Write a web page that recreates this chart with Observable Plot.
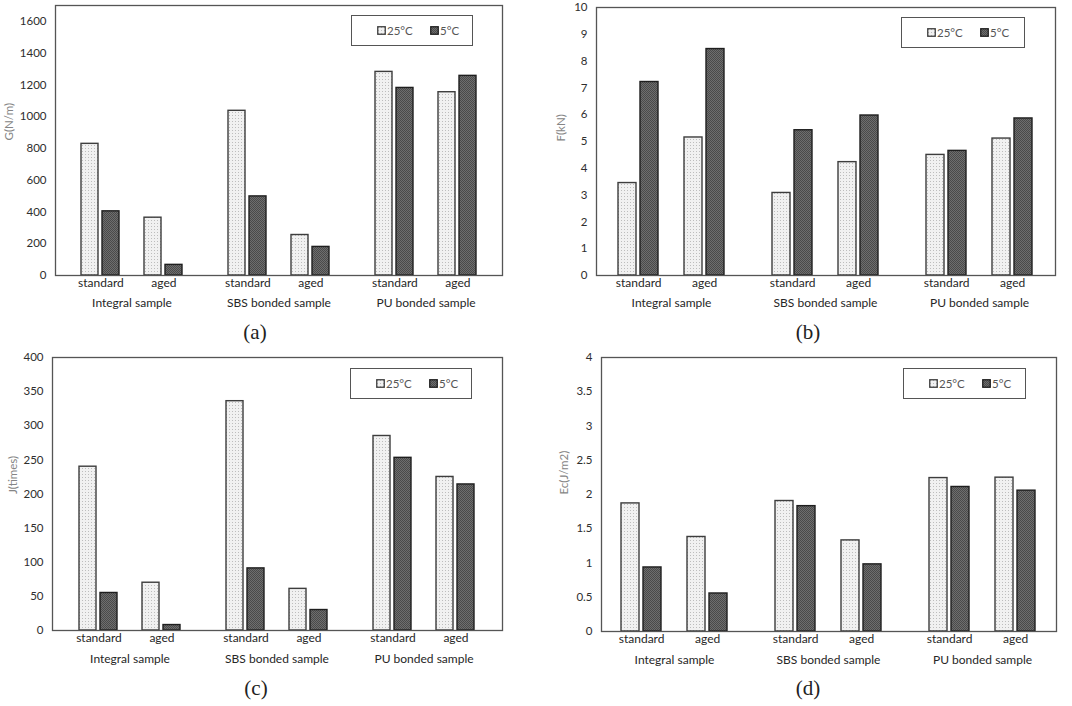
<!DOCTYPE html>
<html><head><meta charset="utf-8">
<script src="https://cdn.jsdelivr.net/npm/d3@7"></script>
<script src="https://cdn.jsdelivr.net/npm/@observablehq/plot@0.6"></script>
<style>
body{margin:0;background:#fff;}
#fig{position:relative;width:1072px;height:706px;overflow:hidden;font-family:Lato,sans-serif;}
.panel{position:absolute;}
.legend{position:absolute;border:1.3px solid #555;background:#fff;box-sizing:border-box;font-size:11.5px;color:#555;}
.legend .sq{position:absolute;top:50%;width:9px;height:9px;margin-top:-5px;}
.legend .lt{position:absolute;top:50%;transform:translateY(-50%);line-height:1;}
.cap{position:absolute;font-family:"Liberation Serif",serif;font-size:21px;color:#222;transform:translate(-50%,-50%);}
</style></head><body>
<svg width="0" height="0" style="position:absolute">
  <defs>
    <pattern id="dots" width="3" height="3" patternUnits="userSpaceOnUse">
      <rect width="3" height="3" fill="#f1f1f1"/>
      <rect x="1" y="1" width="1" height="1" fill="#bdbdbd"/>
    </pattern>
    <pattern id="hatch" width="2" height="2" patternUnits="userSpaceOnUse">
      <rect width="2" height="2" fill="#6e6e6e"/>
      <rect width="1" height="1" fill="#4a4a4a"/>
      <rect x="1" y="1" width="1" height="1" fill="#4a4a4a"/>
    </pattern>
  </defs>
</svg>
<div id="fig"></div>
<script>
const groups = ["Integral sample", "SBS bonded sample", "PU bonded sample"];
const conditions = ["standard", "aged"];
const temps = ["25°C", "5°C"];
// order: Integral standard, Integral aged, SBS standard, SBS aged, PU standard, PU aged
const G25 = [829, 364, 1037, 255, 1282, 1154];
const G5 = [404, 67, 498, 180, 1181, 1257];
const F25 = [3.45, 5.15, 3.08, 4.23, 4.50, 5.11];
const F5 = [7.22, 8.45, 5.42, 5.97, 4.65, 5.86];
const J25 = [240, 70, 336, 61, 285, 225];
const J5 = [55, 8, 91, 30, 253, 214];
const E25 = [1.87, 1.38, 1.905, 1.33, 2.24, 2.246];
const E5 = [0.935, 0.555, 1.83, 0.98, 2.11, 2.056];
const ticksG = [0, 200, 400, 600, 800, 1000, 1200, 1400, 1600];
const ticksF = [0, 1, 2, 3, 4, 5, 6, 7, 8, 9, 10];
const ticksJ = [0, 50, 100, 150, 200, 250, 300, 350, 400];
const ticksE = [0, 0.5, 1, 1.5, 2, 2.5, 3, 3.5, 4];
const panelLabels = ["(a)", "(b)", "(c)", "(d)"];

const panels = [
  {left: 0, top: 0, height: 320, mL: 55, mR: 34, mT: 5, mB: 45, yMax: 1700, ticks: ticksG, label: "G(N/m)", lab: 46, v25: G25, v5: G5,
   legend: [351, 15, 122, 31], cap: [255, 332], condDy: 11, grpDy: 31},
  {left: 536, top: 0, height: 320, mL: 60, mR: 17, mT: 7, mB: 45, yMax: 10, ticks: ticksF, label: "F(kN)", lab: 35, v25: F25, v5: F5,
   legend: [365, 17, 124, 31], cap: [272, 332], condDy: 11, grpDy: 31},
  {left: 0, top: 350, height: 325, mL: 52, mR: 34, mT: 7, mB: 45, yMax: 400, ticks: ticksJ, label: "J(times)", lab: 39, v25: J25, v5: J5,
   legend: [350, 18, 122, 31], cap: [256, 338], condDy: 11, grpDy: 32},
  {left: 536, top: 350, height: 326, mL: 65, mR: 16, mT: 7, mB: 45, yMax: 4, ticks: ticksE, label: "Ec(J/m2)", lab: 37, v25: E25, v5: E5,
   legend: [367, 18, 123, 31], cap: [272, 338], condDy: 11, grpDy: 32}
];

// band domain: bars + spacer slots
const domain = [];
groups.forEach((g, gi) => {
  if (gi > 0) domain.push(`gapA-${gi}`, `gapB-${gi}`);
  conditions.forEach((c, ci) => {
    if (ci > 0) domain.push(`mid-${gi}`);
    temps.forEach(t => domain.push(`${g}|${c}|${t}`));
  });
});
const pInner = 0.174, pOuter = 0.837;

const fig = document.getElementById("fig");
panels.forEach((p, pi) => {
  const width = 536;
  const bars = [];
  groups.forEach((g, gi) => conditions.forEach((c, ci) => {
    const i = gi * 2 + ci;
    bars.push({key: `${g}|${c}|${temps[0]}`, temp: temps[0], v: p.v25[i]});
    bars.push({key: `${g}|${c}|${temps[1]}`, temp: temps[1], v: p.v5[i]});
  }));
  const condLabels = [];
  groups.forEach(g => conditions.forEach(c => condLabels.push({key: `${g}|${c}|${temps[0]}`, text: c})));
  const grpLabels = groups.map((g, gi) => ({key: `mid-${gi}`, text: g}));
  const step = (width - p.mL - p.mR) / (domain.length - pInner + 2 * pOuter);

  const chart = Plot.plot({
    width, height: p.height,
    marginLeft: p.mL, marginRight: p.mR, marginTop: p.mT, marginBottom: p.mB,
    style: {fontFamily: "Lato, sans-serif", fontSize: "11.5px", color: "#2e2e2e", background: "transparent", overflow: "visible"},
    x: {domain, paddingInner: pInner, paddingOuter: pOuter, axis: null},
    y: {domain: [0, p.yMax], ticks: p.ticks, tickSize: 0, tickPadding: 9, tickFormat: d => String(d), label: null},
    marks: [
      Plot.barY(bars.filter(d => d.temp === temps[0]), {x: "key", y: "v", fill: "url(#dots)", stroke: "#3d3d3d", strokeWidth: 1.4}),
      Plot.barY(bars.filter(d => d.temp === temps[1]), {x: "key", y: "v", fill: "url(#hatch)", stroke: "#1e1e1e", strokeWidth: 1.4}),
      Plot.frame({stroke: "#555", strokeWidth: 1.3}),
      Plot.text(condLabels, {x: "key", text: "text", frameAnchor: "bottom", dy: p.condDy, dx: step / 2, fontSize: 12, fill: "#262626"}),
      Plot.text(grpLabels, {x: "key", text: "text", frameAnchor: "bottom", dy: p.grpDy, fontSize: 12, fill: "#262626"}),
      Plot.text([p.label], {text: d => d, frameAnchor: "left", dx: -p.lab, rotate: -90, fontSize: 11.5, fill: "#858585"})
    ]
  });
  const div = document.createElement("div");
  div.className = "panel";
  div.style.left = p.left + "px";
  div.style.top = p.top + "px";
  div.style.width = width + "px";
  div.appendChild(chart);
  // legend
  const lg = document.createElement("div");
  lg.className = "legend";
  const [lx, ly, lw, lh] = p.legend;
  lg.style.left = lx + "px"; lg.style.top = ly + "px"; lg.style.width = lw + "px"; lg.style.height = lh + "px";
  const fills = ["url(#dots)", "url(#hatch)"];
  const sqX = [25, 78];
  temps.forEach((t, ti) => {
    const sq = document.createElementNS("http://www.w3.org/2000/svg", "svg");
    sq.setAttribute("class", "sq");
    sq.setAttribute("width", 9); sq.setAttribute("height", 9);
    sq.style.left = sqX[ti] + "px";
    sq.innerHTML = `<rect x="0.75" y="0.75" width="7.5" height="7.5" fill="${fills[ti]}" stroke="${ti ? '#1e1e1e' : '#3d3d3d'}" stroke-width="1.3"/>`;
    lg.appendChild(sq);
    const tx = document.createElement("span");
    tx.className = "lt";
    tx.style.left = (sqX[ti] + 10) + "px";
    tx.textContent = t;
    lg.appendChild(tx);
  });
  div.appendChild(lg);
  const cap = document.createElement("div");
  cap.className = "cap";
  cap.style.left = p.cap[0] + "px";
  cap.style.top = p.cap[1] + "px";
  cap.textContent = panelLabels[pi];
  div.appendChild(cap);
  fig.appendChild(div);
});
</script>
</body></html>
